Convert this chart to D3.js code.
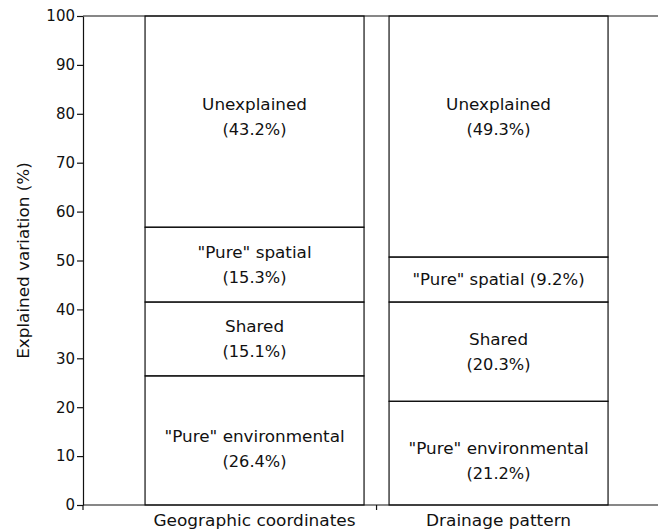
<!DOCTYPE html>
<html>
<head>
<meta charset="utf-8">
<script src="https://cdn.jsdelivr.net/npm/d3@7"></script>
<style>
  body { margin: 0; background: #fff; }
  svg { display: block; font-family: "DejaVu Sans", "Liberation Sans", Arial, sans-serif; }
</style>
</head>
<body>
<svg id="chart"></svg>
<script>
const categories = ["Geographic coordinates", "Drainage pattern"]
const components = ["\"Pure\" environmental", "Shared", "\"Pure\" spatial", "Unexplained"]
const pureEnvironmental = [26.4, 21.2]
const shared = [15.1, 20.3]
const pureSpatial = [15.3, 9.2]
const unexplained = [43.2, 49.3]
const yTicks = [0, 10, 20, 30, 40, 50, 60, 70, 80, 90, 100]

const dimensions = { width: 658, height: 529 }
const ink = "#111"

// rows for d3.stack, built from the arrays above
const table = categories.map((c, i) => ({
  category: c,
  [components[0]]: pureEnvironmental[i],
  [components[1]]: shared[i],
  [components[2]]: pureSpatial[i],
  [components[3]]: unexplained[i]
}))

const svg = d3.select("#chart")
  .attr("width", dimensions.width)
  .attr("height", dimensions.height)

const y = d3.scaleLinear().domain([0, 100]).range([505, 16])
const x = d3.scaleBand()
  .domain(categories)
  .range([83, 658])
  .paddingInner(0.1025)
  .paddingOuter(0.2295)
  .align(0.554)

// the scanned figure uses a wide face, so stretch text a little
function stretch(sel, k) {
  sel.each(function () {
    const len = this.getComputedTextLength()
    d3.select(this).attr("textLength", len * k).attr("lengthAdjust", "spacingAndGlyphs")
  })
}

const series = d3.stack().keys(components)(table)

// segments
series.forEach(s => {
  svg.append("g").selectAll("rect")
    .data(s)
    .enter().append("rect")
    .attr("x", d => x(d.data.category))
    .attr("width", x.bandwidth())
    .attr("y", d => y(d[1]))
    .attr("height", d => y(d[0]) - y(d[1]))
    .attr("fill", "none")
    .attr("stroke", ink)
    .attr("stroke-width", 1.2)
})

// segment labels
const labels = svg.append("g")
  .attr("font-size", 15)
  .attr("text-anchor", "middle")
  .attr("fill", ink)

series.forEach(s => {
  s.forEach(d => {
    const v = d[1] - d[0]
    const cx = x(d.data.category) + x.bandwidth() / 2
    let cy = (y(d[0]) + y(d[1])) / 2
    if (s.key === "Unexplained") cy = y((100 + d3.max(series[2], e => e[1])) / 2) - 5
    if (s.key === components[0]) cy += 8
    const pct = "(" + d3.format(".1f")(v) + "%)"
    if (y(d[0]) - y(d[1]) < 55) {
      labels.append("text")
        .attr("x", cx).attr("y", cy).attr("dy", "0.35em")
        .text(s.key + " " + pct)
        .call(stretch, 1.1)
    } else {
      labels.append("text")
        .attr("x", cx).attr("y", cy - 12).attr("dy", "0.35em")
        .text(s.key)
        .call(stretch, 1.12)
      labels.append("text")
        .attr("x", cx).attr("y", cy + 13).attr("dy", "0.35em")
        .text(pct)
        .call(stretch, 1.08)
    }
  })
})

// y axis
const yAxis = svg.append("g")
  .attr("transform", "translate(83,0)")
  .call(d3.axisLeft(y).tickValues(yTicks).tickSize(6).tickSizeOuter(0).tickPadding(2))
yAxis.select(".domain").attr("stroke", ink).attr("stroke-width", 1.2)
yAxis.selectAll(".tick line").attr("stroke", ink).attr("stroke-width", 1.2)
yAxis.selectAll(".tick text")
  .attr("font-size", 15)
  .attr("font-family", "\"DejaVu Sans\", Arial, sans-serif")
  .attr("fill", ink)

// frame top and baseline
svg.append("line")
  .attr("x1", x.range()[0]).attr("x2", x.range()[1])
  .attr("y1", y(100)).attr("y2", y(100))
  .attr("stroke", ink).attr("stroke-width", 1.2)
svg.append("line")
  .attr("x1", x.range()[0]).attr("x2", x.range()[1])
  .attr("y1", y(0)).attr("y2", y(0))
  .attr("stroke", ink).attr("stroke-width", 1.2)

// x ticks: left end and the boundary between the two bars
const xTicks = [x.range()[0], x(categories[1]) - x.step() * x.paddingInner() / 2]
svg.append("g").selectAll("line")
  .data(xTicks)
  .enter().append("line")
  .attr("x1", d => d).attr("x2", d => d)
  .attr("y1", y(0)).attr("y2", y(0) + 5)
  .attr("stroke", ink).attr("stroke-width", 1.2)

// category labels
svg.append("g").selectAll("text")
  .data(categories)
  .enter().append("text")
  .attr("x", d => x(d) + x.bandwidth() / 2)
  .attr("y", y(0) + 21)
  .attr("text-anchor", "middle")
  .attr("font-size", 15)
  .attr("fill", ink)
  .text(d => d)
  .call(stretch, 1.13)

// axis title
svg.append("text")
  .attr("transform", `translate(24,${(y(0) + y(100)) / 2}) rotate(-90)`)
  .attr("text-anchor", "middle")
  .attr("dy", "0.35em")
  .attr("font-size", 15)
  .attr("fill", ink)
  .text("Explained variation (%)")
  .call(stretch, 1.12)
</script>
</body>
</html>
